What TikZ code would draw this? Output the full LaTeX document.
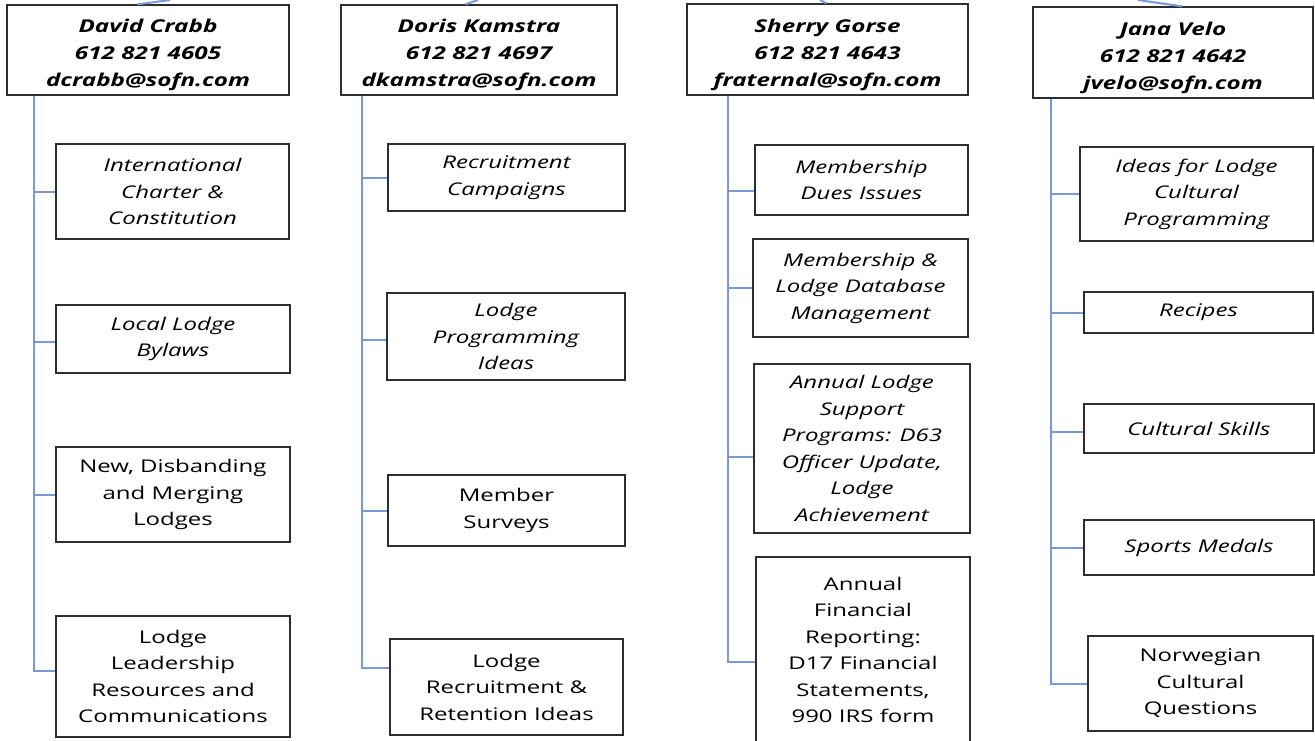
\documentclass[tikz,border=0pt]{standalone}
\usepackage{fontspec}
\setmainfont{Open Sans}[FakeStretch=1.37]
\usepackage{tikz}
\usetikzlibrary{positioning}

\definecolor{boxline}{RGB}{45,45,45}
\definecolor{linkblue}{RGB}{120,152,215}
\newcommand\topicfont{\fontsize{17.5}{26.5}\selectfont}

\tikzset{
  person/.style 2 args={draw=boxline, line width=1.2pt, inner sep=0pt, align=center,
    minimum width=#1, minimum height=#2, text height=77pt, text depth=4pt,
    font=\fontsize{17.7}{27}\selectfont\bfseries\itshape},
  topic/.style 2 args={draw=boxline, line width=1.2pt, inner sep=0pt, align=center,
    minimum width=#1, minimum height=#2, font=\topicfont},
  topicit/.style 2 args={topic={#1}{#2}, font=\topicfont\itshape},
  link/.style={draw=linkblue, line width=2pt}
}

\begin{document}
\begin{tikzpicture}[x=1pt, y=-1pt]
  \useasboundingbox (0,0) rectangle (1315,740);

  % people
  \node[person={282}{90}] (crabb) at (148,50) {David Crabb\\612 821 4605\\dcrabb@sofn.com};
  \node[person={276}{90}] (kamstra) at (479,50) {Doris Kamstra\\612 821 4697\\dkamstra@sofn.com};
  \node[person={281}{91}] (gorse) at (827.5,49.5) {Sherry Gorse\\612 821 4643\\fraternal@sofn.com};
  \node[person={280}{91}] (velo) at (1173,52.5) {Jana Velo\\612 821 4642\\jvelo@sofn.com};

  % topics, David Crabb
  \node[topicit={233}{95}] (charter) at (172.5,191.5) {International\\Charter \&\\Constitution};
  \node[topicit={234}{68}] (bylaws) at (173,339) {Local Lodge\\Bylaws};
  \node[topic={234}{95}] (merging) at (173,494.5) {New, Disbanding\\and Merging\\Lodges};
  \node[topic={234}{121}] (leadership) at (173,676.5) {Lodge\\Leadership\\Resources and\\Communications};

  % topics, Doris Kamstra
  \node[topicit={237}{67}] (campaigns) at (506.5,177.5) {Recruitment\\Campaigns};
  \node[topicit={238}{87}] (programming) at (506,336.5) {Lodge\\Programming\\Ideas};
  \node[topic={237}{71}] (surveys) at (506.5,510.5) {Member\\Surveys};
  \node[topic={233}{96}] (retention) at (506.5,687) {Lodge\\Recruitment \&\\Retention Ideas};

  % topics, Sherry Gorse
  \node[topicit={213}{70}] (dues) at (861.5,180) {Membership\\Dues Issues};
  \node[topicit={215}{98}] (database) at (860.5,288) {Membership \&\\Lodge Database\\Management};
  \node[topicit={216}{169}] (support) at (862,448.5) {Annual Lodge\\Support\\Programs: D63\\Officer Update,\\Lodge\\Achievement};
  \node[topic={214}{186}] (financial) at (863,650) {Annual\\Financial\\Reporting:\\D17 Financial\\Statements,\\990 IRS form};

  % topics, Jana Velo
  \node[topicit={233}{94}] (cultural) at (1196.5,194) {Ideas for Lodge\\Cultural\\Programming};
  \node[topicit={229}{41}] (recipes) at (1198.5,312.5) {Recipes};
  \node[topicit={230}{49}] (skills) at (1199,428.5) {Cultural Skills};
  \node[topicit={230}{55}] (medals) at (1199,547.5) {Sports Medals};
  \node[topic={225}{95}] (norwegian) at (1200.5,683.5) {Norwegian\\Cultural\\Questions};

  % links up, cut by the page edge
  \coordinate (up1) at (170,0);
  \coordinate (up2) at (478,0);
  \coordinate (up3) at (820,0);
  \coordinate (up4) at (1138,0);
  \draw[link] ([xshift=131pt]crabb.north west) -- (up1);
  \draw[link] ([xshift=125pt]kamstra.north west) -- (up2);
  \draw[link] ([xshift=140pt]gorse.north west) -- (up3);
  \draw[link] ([xshift=150pt]velo.north west) -- (up4);

  % links down
  \draw[link] ([xshift=28pt]crabb.south west) |- (charter.west);
  \draw[link] ([xshift=28pt]crabb.south west) |- ([yshift=-3pt]bylaws.west);
  \draw[link] ([xshift=28pt]crabb.south west) |- (merging.west);
  \draw[link] ([xshift=28pt]crabb.south west) |- ([yshift=6pt]leadership.west);

  \draw[link] ([xshift=22pt]kamstra.south west) |- (campaigns.west);
  \draw[link] ([xshift=22pt]kamstra.south west) |- ([yshift=-3pt]programming.west);
  \draw[link] ([xshift=22pt]kamstra.south west) |- (surveys.west);
  \draw[link] ([xshift=22pt]kamstra.south west) |- ([yshift=19pt]retention.west);

  \draw[link] ([xshift=42pt]gorse.south west) |- ([yshift=-11pt]dues.west);
  \draw[link] ([xshift=42pt]gorse.south west) |- (database.west);
  \draw[link] ([xshift=42pt]gorse.south west) |- ([yshift=-8pt]support.west);
  \draw[link] ([xshift=42pt]gorse.south west) |- ([yshift=-12pt]financial.west);

  \draw[link] ([xshift=19pt]velo.south west) |- (cultural.west);
  \draw[link] ([xshift=19pt]velo.south west) |- (recipes.west);
  \draw[link] ([xshift=19pt]velo.south west) |- ([yshift=-3pt]skills.west);
  \draw[link] ([xshift=19pt]velo.south west) |- (medals.west);
  \draw[link] ([xshift=19pt]velo.south west) |- (norwegian.west);
\end{tikzpicture}
\end{document}
